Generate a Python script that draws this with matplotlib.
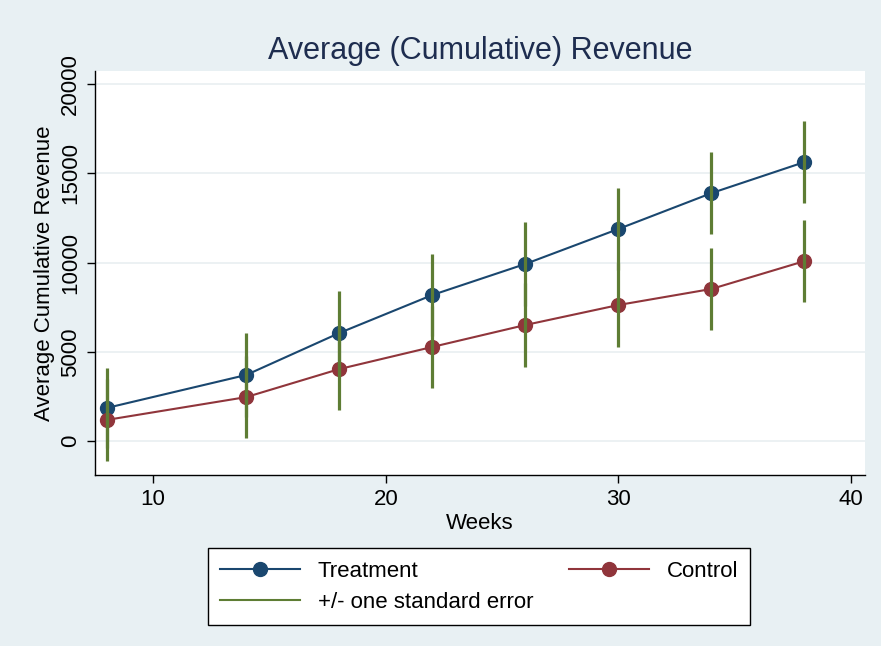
import matplotlib.pyplot as plt

# weeks and average cumulative revenue
weeks = [8, 14, 18, 22, 26, 30, 34, 38]
treatment = [1850, 3700, 6050, 8180, 9920, 11880, 13890, 15630]
control = [1180, 2460, 4030, 5270, 6500, 7620, 8520, 10080]
treatment_se = [2240, 2350, 2350, 2300, 2350, 2290, 2300, 2300]
control_se = [2300, 2290, 2290, 2300, 2350, 2350, 2300, 2290]

yticks = [0, 5000, 10000, 15000, 20000]
xticks = [10, 20, 30, 40]

bg = '#e8f0f3'
navy = '#1a476f'
maroon = '#90353b'
green = '#5e7d34'

plt.rcParams['font.family'] = ['Liberation Sans', 'DejaVu Sans']

fig = plt.figure(figsize=(8.81, 6.46), dpi=100, facecolor=bg)
ax = fig.add_axes([0.1078, 0.2647, 0.8740, 0.6253])
ax.set_facecolor('white')

for y in yticks:
    ax.axhline(y, color='#eaf0f2', lw=1.3, zorder=0)

l1, = ax.plot(weeks, treatment, color=navy, lw=1.5, marker='o', ms=10, zorder=2)
l2, = ax.plot(weeks, control, color=maroon, lw=1.5, marker='o', ms=10, zorder=2)
ax.vlines(weeks, [t - s for t, s in zip(treatment, treatment_se)],
          [t + s for t, s in zip(treatment, treatment_se)], color=green, lw=2.3, zorder=3)
ax.vlines(weeks, [c - s for c, s in zip(control, control_se)],
          [c + s for c, s in zip(control, control_se)], color=green, lw=2.3, zorder=3)
l3, = ax.plot([], [], color=green, lw=1.5)

ax.set_xlim(7.5, 40.6)
ax.set_ylim(-1905, 20730)
ax.set_xticks(xticks)
ax.set_yticks(yticks)
ax.set_yticklabels([str(y) for y in yticks], rotation=90, va='center')
ax.tick_params(labelsize=16, length=6, width=1, colors='black', pad=4)

for s in ['top', 'right']:
    ax.spines[s].set_visible(False)
for s in ['left', 'bottom']:
    ax.spines[s].set_color('black')
    ax.spines[s].set_linewidth(1)

ax.set_xlabel('Weeks', fontsize=16, labelpad=2)
ax.set_ylabel('Average Cumulative Revenue', fontsize=16, labelpad=4)
ax.set_title('Average (Cumulative) Revenue', fontsize=22, color='#1e2d4f', pad=9)

leg = fig.legend([l1, l3, l2], ['Treatment', '+/- one standard error', 'Control'],
                 ncol=2, loc='center', bbox_to_anchor=(0.5437, 0.092),
                 fontsize=16, frameon=True, fancybox=False, edgecolor='black',
                 framealpha=1, handlelength=3.6, handletextpad=0.8,
                 columnspacing=1.6, borderpad=0.55, labelspacing=0.45)
leg.get_frame().set_linewidth(1)

fig.savefig('out.png', dpi=100, facecolor=bg)
